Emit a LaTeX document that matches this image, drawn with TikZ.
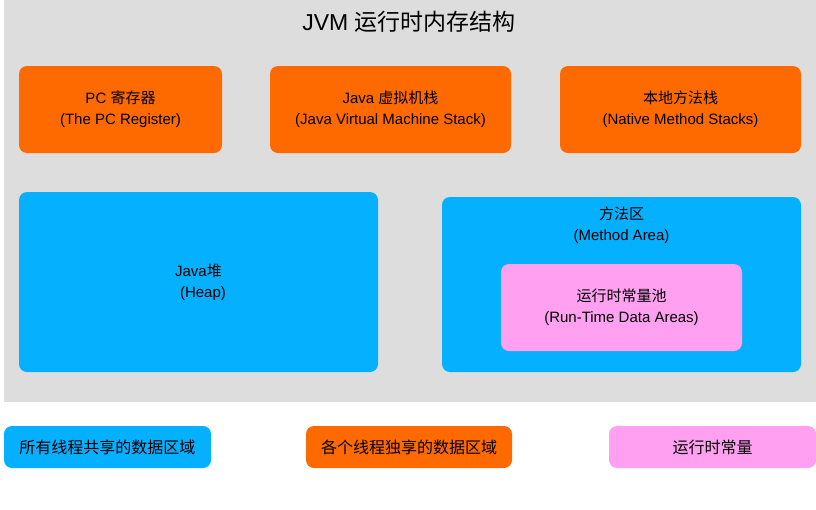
\documentclass[tikz,border=0pt]{standalone}
\usepackage{fontspec}
\setmainfont{Liberation Sans}
\newfontfamily\cjk{Noto Sans CJK SC}
\definecolor{bggray}{HTML}{DDDDDD}
\definecolor{orng}{HTML}{FF6A00}
\definecolor{blu}{HTML}{05B0FF}
\definecolor{pnk}{HTML}{FFA0F0}
\begin{document}
\begin{tikzpicture}[x=1pt,y=-1pt,
  box/.style={rounded corners=8pt, draw=none, inner sep=0pt, align=center,
    font=\fontsize{15}{21}\selectfont, text=black},
  legend/.style={box, minimum height=42pt, font=\fontsize{16}{20}\selectfont}]
\useasboundingbox (0,0) rectangle (816,509);
\fill[bggray] (4,0) rectangle (816,402);
\node[font=\fontsize{23}{26}\selectfont] (title) at (409,22) {JVM {\cjk 运行时内存结构}};
\node[box, fill=orng, minimum width=203pt, minimum height=87pt] (pc) at (120.5,109.5) {PC {\cjk 寄存器}\\(The PC Register)};
\node[box, fill=orng, minimum width=241pt, minimum height=87pt] (jvms) at (390.5,109.5) {Java {\cjk 虚拟机栈}\\(Java Virtual Machine Stack)};
\node[box, fill=orng, minimum width=241pt, minimum height=87pt] (nms) at (680.5,109.5) {{\cjk 本地方法栈}\\(Native Method Stacks)};
\node[box, fill=blu, minimum width=359pt, minimum height=180pt] (heap) at (198.5,282) {Java{\cjk 堆}\\\hspace*{0.6em}(Heap)};
\node[box, fill=blu, minimum width=359pt, minimum height=175pt] (ma) at (621.5,284.5) {};
\node[box] (malabel) at (621.5,225.5) {{\cjk 方法区}\\(Method Area)};
\node[box, fill=pnk, minimum width=241pt, minimum height=87pt] (rcp) at (621.5,307.5) {{\cjk 运行时常量池}\\(Run-Time Data Areas)};
\node[legend, fill=blu, minimum width=207pt] (lg1) at (107.5,447) {\cjk 所有线程共享的数据区域};
\node[legend, fill=orng, minimum width=206pt] (lg2) at (409,447) {\cjk 各个线程独享的数据区域};
\node[legend, fill=pnk, minimum width=207pt] (lg3) at (712.5,447) {\cjk 运行时常量};
\end{tikzpicture}
\end{document}
